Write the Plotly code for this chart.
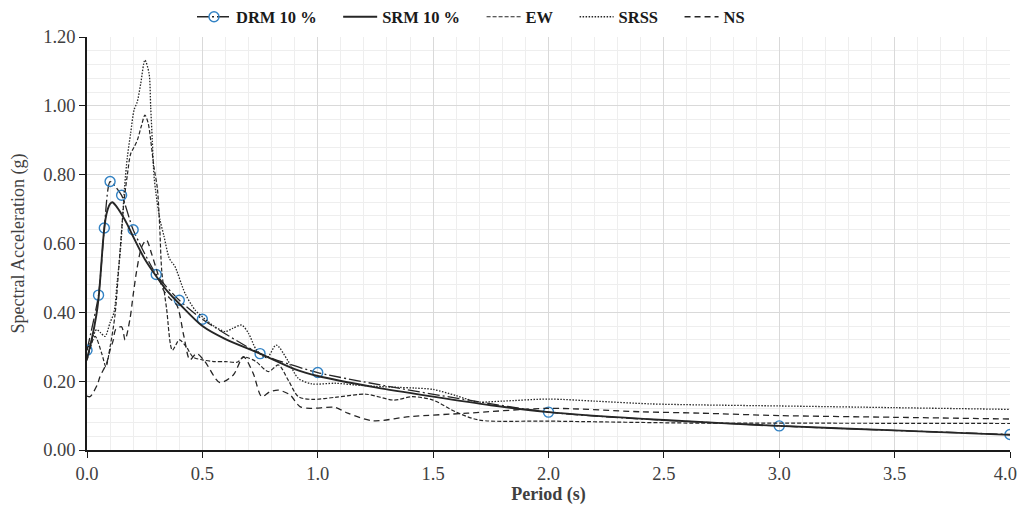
import plotly.graph_objects as go

# ---------------- data ----------------
drm_T = [0, 0.05, 0.075, 0.1, 0.15, 0.2, 0.3, 0.4, 0.5, 0.75, 1.0, 2.0, 3.0, 4.0]
drm_v = [0.29, 0.45, 0.645, 0.78, 0.74, 0.64, 0.51, 0.435, 0.38, 0.28, 0.225, 0.11, 0.07, 0.045]

srm_T = [0, 0.02, 0.04, 0.05, 0.06, 0.07, 0.08, 0.09, 0.1, 0.11, 0.125, 0.15, 0.175, 0.2,
         0.25, 0.3, 0.35, 0.4, 0.5, 0.6, 0.75, 0.9, 1.0, 1.25, 1.5, 1.75, 2.0, 2.5, 3.0, 3.5, 4.0]
srm_v = [0.265, 0.32, 0.39, 0.44, 0.52, 0.61, 0.67, 0.70, 0.715, 0.72, 0.71, 0.685, 0.655, 0.62,
         0.555, 0.505, 0.46, 0.425, 0.36, 0.322, 0.28, 0.235, 0.215, 0.182, 0.155, 0.13, 0.11, 0.087, 0.07, 0.057, 0.044]

ew_T = [0, 0.035, 0.064, 0.082, 0.1, 0.121, 0.14, 0.16, 0.175, 0.189, 0.204, 0.218, 0.235, 0.251,
        0.265, 0.276, 0.29, 0.305, 0.315, 0.324, 0.345, 0.37, 0.40, 0.43, 0.46, 0.5, 0.55, 0.6, 0.65,
        0.68, 0.73, 0.786, 0.83, 0.872, 0.916, 0.974, 1.075, 1.21, 1.33, 1.41, 1.5, 1.6, 1.7, 2.0,
        2.66, 3.0, 4.0]
ew_v = [0.26, 0.33, 0.28, 0.242, 0.30, 0.39, 0.55, 0.72, 0.80, 0.86, 0.88, 0.90, 0.94, 0.973,
        0.95, 0.90, 0.823, 0.76, 0.65, 0.52, 0.41, 0.29, 0.32, 0.30, 0.27, 0.262, 0.257, 0.257, 0.255,
        0.27, 0.258, 0.228, 0.247, 0.203, 0.155, 0.147, 0.153, 0.162, 0.145, 0.155, 0.145, 0.11, 0.087, 0.084,
        0.078, 0.078, 0.077]

srss_T = [0, 0.02, 0.042, 0.06, 0.078, 0.1, 0.117, 0.131, 0.146, 0.163, 0.175, 0.189, 0.204, 0.218,
          0.233, 0.251, 0.269, 0.276, 0.283, 0.29, 0.298, 0.316, 0.334, 0.355, 0.37, 0.38, 0.425, 0.468,
          0.5, 0.55, 0.6, 0.63, 0.67, 0.7, 0.735, 0.78, 0.82, 0.87, 0.916, 0.974, 1.075, 1.16, 1.25,
          1.35, 1.42, 1.5, 1.6, 1.69, 1.8, 2.0, 2.2, 2.44, 2.66, 3.0, 3.5, 4.0]
srss_v = [0.29, 0.32, 0.35, 0.34, 0.33, 0.37, 0.40, 0.49, 0.59, 0.765, 0.852, 0.92, 0.988, 1.012,
          1.065, 1.133, 1.094, 0.997, 0.90, 0.80, 0.75, 0.67, 0.62, 0.56, 0.543, 0.535, 0.455, 0.407,
          0.387, 0.36, 0.344, 0.353, 0.363, 0.339, 0.29, 0.268, 0.305, 0.26, 0.208, 0.192, 0.194, 0.189, 0.185,
          0.182, 0.18, 0.176, 0.158, 0.14, 0.142, 0.148, 0.142, 0.134, 0.131, 0.128, 0.123, 0.118]

ns_T = [0, 0.013, 0.045, 0.056, 0.085, 0.1, 0.114, 0.124, 0.15, 0.165, 0.186, 0.2, 0.215, 0.237,
        0.258, 0.28, 0.302, 0.331, 0.36, 0.39, 0.42, 0.446, 0.475, 0.511, 0.576, 0.634, 0.678, 0.72,
        0.757, 0.79, 0.829, 0.88, 0.923, 0.974, 1.075, 1.13, 1.24, 1.4, 1.65, 2.0, 2.4, 2.66, 3.0, 3.5, 4.0]
ns_v = [0.157, 0.155, 0.19, 0.213, 0.252, 0.29, 0.32, 0.35, 0.358, 0.32, 0.38, 0.45, 0.52, 0.59,
        0.61, 0.57, 0.523, 0.465, 0.44, 0.42, 0.33, 0.262, 0.28, 0.257, 0.196, 0.218, 0.271, 0.223,
        0.155, 0.168, 0.174, 0.16, 0.126, 0.121, 0.124, 0.107, 0.085, 0.097, 0.107, 0.121, 0.111, 0.107, 0.1, 0.095, 0.09]

x_ticks = [0, 0.5, 1.0, 1.5, 2.0, 2.5, 3.0, 3.5, 4.0]
x_ticktext = ["0.0", "0.5", "1.0", "1.5", "2.0", "2.5", "3.0", "3.5", "4.0\u00a0\u00a0"]
y_ticks = [0, 0.2, 0.4, 0.6, 0.8, 1.0, 1.2]

# ---------------- figure ----------------
LINE = "#262626"
SERIF = "Liberation Serif, Times New Roman, serif"
PAD = "\u00a0\u00a0\u00a0\u00a0"
W, H = 1010, 499  # page body has an 8px margin on every side

fig = go.Figure()
fig.add_trace(go.Scatter(
    x=drm_T, y=drm_v, name="<b>DRM 10 %</b>" + PAD, mode="lines+markers",
    line=dict(color=LINE, width=1.3, dash="12px,3px,2px,3px", shape="spline", smoothing=0.6),
    marker=dict(symbol="circle-open", size=10, color="#3282C4", line=dict(width=1.4, color="#3282C4")),
))
fig.add_trace(go.Scatter(
    x=srm_T, y=srm_v, name="<b>SRM 10 %</b>" + PAD, mode="lines",
    line=dict(color=LINE, width=1.9, shape="spline", smoothing=0.8),
))
fig.add_trace(go.Scatter(
    x=ew_T, y=ew_v, name="<b>EW</b>" + PAD, mode="lines",
    line=dict(color=LINE, width=1.2, dash="4px,2px", shape="spline", smoothing=0.8),
))
fig.add_trace(go.Scatter(
    x=srss_T, y=srss_v, name="<b>SRSS</b>" + PAD, mode="lines",
    line=dict(color=LINE, width=1.3, dash="1.5px,1.5px", shape="spline", smoothing=0.8),
))
fig.add_trace(go.Scatter(
    x=ns_T, y=ns_v, name="<b>NS</b>", mode="lines",
    line=dict(color=LINE, width=1.3, dash="6px,4px", shape="spline", smoothing=0.8),
))

fig.update_layout(
    width=W, height=H,
    margin=dict(l=79, r=8, t=29, b=57, autoexpand=False),
    paper_bgcolor="white", plot_bgcolor="white",
    font=dict(family=SERIF, size=18.5, color="#404040"),
    showlegend=True,
    legend=dict(orientation="h", x=184 / W, xref="container", xanchor="left",
                y=1 - 9 / H, yref="container", yanchor="middle",
                font=dict(family=SERIF, size=16.5, color="#1a1a1a"),
                itemwidth=34, tracegroupgap=0, bgcolor="rgba(0,0,0,0)"),
    xaxis=dict(
        range=[0, 4], tickvals=x_ticks, ticktext=x_ticktext, automargin=False,
        ticklabeloverflow="allow",
        showgrid=True, gridcolor="#d9d9d9", gridwidth=1,
        minor=dict(dtick=0.1, showgrid=True, gridcolor="#eeeeee", gridwidth=1),
        showline=True, linecolor="#1a1a1a", linewidth=1.5,
        ticks="outside", ticklen=6, tickcolor="#1a1a1a",
        tickfont=dict(size=18.5, color="#404040"),
        zeroline=False,
        title=dict(text="<b>Period (s)</b>", font=dict(family=SERIF, size=18, color="#404040"), standoff=4),
    ),
    yaxis=dict(
        range=[0, 1.2], tickvals=y_ticks, tickformat=".2f", automargin=False,
        showgrid=True, gridcolor="#d9d9d9", gridwidth=1,
        minor=dict(dtick=0.04, showgrid=True, gridcolor="#eeeeee", gridwidth=1),
        showline=True, linecolor="#1a1a1a", linewidth=1.5,
        ticks="outside", ticklen=6, tickcolor="#1a1a1a",
        tickfont=dict(size=18.5, color="#404040"),
        zeroline=False,
        title=dict(text="Spectral Acceleration (g)", font=dict(family=SERIF, size=18, color="#404040"), standoff=15),
    ),
)

fig.write_html("out.html")
